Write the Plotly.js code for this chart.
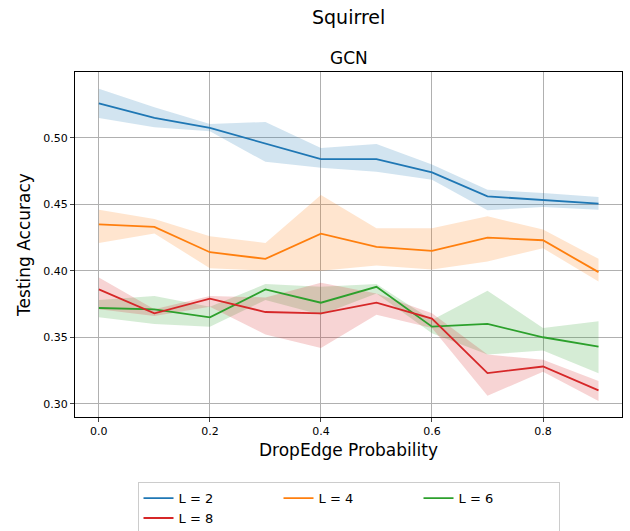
<!DOCTYPE html>
<html>
<head>
<meta charset="utf-8">
<script src="https://cdn.plot.ly/plotly-3.0.1.min.js"></script>
<style>body{margin:0;background:#fff}</style>
</head>
<body>
<div id="chart" style="width:630px;height:531px"></div>
<script>
// DropEdge probability
let probs = [0.0, 0.1, 0.2, 0.3, 0.4, 0.5, 0.6, 0.7, 0.8, 0.9];

let names = ['L = 2', 'L = 4', 'L = 6', 'L = 8'];
let colors = ['#1f77b4', '#ff7f0e', '#2ca02c', '#d62728'];
let fills = ['rgba(31,119,180,0.2)', 'rgba(255,127,14,0.2)', 'rgba(44,160,44,0.2)', 'rgba(214,39,40,0.2)'];

let meanL2 = [0.526, 0.515, 0.5075, 0.496, 0.484, 0.484, 0.474, 0.456, 0.453, 0.4505];
let upL2   = [0.537, 0.523, 0.5105, 0.512, 0.4925, 0.4955, 0.480, 0.461, 0.4585, 0.4555];
let loL2   = [0.515, 0.508, 0.505, 0.482, 0.4775, 0.4745, 0.4685, 0.4455, 0.448, 0.446];

let meanL4 = [0.435, 0.433, 0.414, 0.409, 0.428, 0.418, 0.415, 0.425, 0.423, 0.399];
let upL4   = [0.446, 0.439, 0.426, 0.421, 0.457, 0.432, 0.432, 0.441, 0.431, 0.409];
let loL4   = [0.421, 0.428, 0.402, 0.400, 0.400, 0.404, 0.401, 0.407, 0.417, 0.392];

let meanL6 = [0.372, 0.371, 0.365, 0.386, 0.376, 0.388, 0.358, 0.360, 0.350, 0.343];
let upL6   = [0.378, 0.381, 0.373, 0.390, 0.388, 0.390, 0.363, 0.385, 0.357, 0.362];
let loL6   = [0.365, 0.360, 0.358, 0.378, 0.367, 0.383, 0.353, 0.337, 0.340, 0.323];

let meanL8 = [0.386, 0.368, 0.379, 0.369, 0.368, 0.376, 0.364, 0.323, 0.328, 0.310];
let upL8   = [0.395, 0.371, 0.381, 0.380, 0.391, 0.383, 0.368, 0.337, 0.333, 0.317];
let loL8   = [0.371, 0.366, 0.373, 0.352, 0.342, 0.367, 0.357, 0.306, 0.324, 0.302];

let means = [meanL2, meanL4, meanL6, meanL8];
let ups = [upL2, upL4, upL6, upL8];
let los = [loL2, loL4, loL6, loL8];

let traces = [];
// bands first so the lines sit on top
for (let i = 0; i < 4; i++) {
    traces.push({x: probs, y: ups[i], mode: 'lines', line: {width: 0}, showlegend: false, hoverinfo: 'skip'});
    traces.push({x: probs, y: los[i], mode: 'lines', line: {width: 0}, fill: 'tonexty',
                 fillcolor: fills[i], showlegend: false, hoverinfo: 'skip'});
}
for (let i = 0; i < 4; i++) {
    traces.push({x: probs, y: means[i], mode: 'lines', name: names[i],
                 line: {color: colors[i], width: 1.8}});
}

let layout = {
    width: 630, height: 531,
    font: {family: 'DejaVu Sans', color: '#000'},
    margin: {l: 75, r: 8, t: 72, b: 114},
    paper_bgcolor: '#fff', plot_bgcolor: '#fff',
    xaxis: {
        range: [-0.043, 0.9423], tickvals: [0, 0.2, 0.4, 0.6, 0.8],
        ticktext: ['0.0', '0.2', '0.4', '0.6', '0.8'],
        showgrid: true, gridcolor: '#b0b0b0', zeroline: false,
        showline: true, mirror: true, linecolor: '#000', automargin: false,
        ticks: 'outside', ticklen: 4, tickfont: {size: 11},
        title: {text: 'DropEdge Probability', font: {size: 17}, standoff: 6}
    },
    yaxis: {
        range: [0.290, 0.5496], tickvals: [0.30, 0.35, 0.40, 0.45, 0.50],
        ticktext: ['0.30', '0.35', '0.40', '0.45', '0.50'],
        showgrid: true, gridcolor: '#b0b0b0', zeroline: false,
        showline: true, mirror: true, linecolor: '#000', automargin: false,
        ticks: 'outside', ticklen: 4, tickfont: {size: 11},
        title: {text: 'Testing Accuracy', font: {size: 17}, standoff: 8}
    },
    legend: {
        orientation: 'h', traceorder: 'normal',
        xref: 'paper', yref: 'container',
        x: 0.5, xanchor: 'center', y: 0.043, yanchor: 'middle',
        bordercolor: '#ccc', borderwidth: 1, font: {size: 13},
        entrywidth: 95
    },
    annotations: [
        {text: 'Squirrel', xref: 'paper', yref: 'paper', x: 0.5, y: 1.16, showarrow: false,
         font: {size: 19}, xanchor: 'center', yanchor: 'middle'},
        {text: 'GCN', xref: 'paper', yref: 'paper', x: 0.5, y: 1.04, showarrow: false,
         font: {size: 17}, xanchor: 'center', yanchor: 'middle'}
    ]
};

Plotly.newPlot('chart', traces, layout, {displayModeBar: false});
</script>
</body>
</html>
